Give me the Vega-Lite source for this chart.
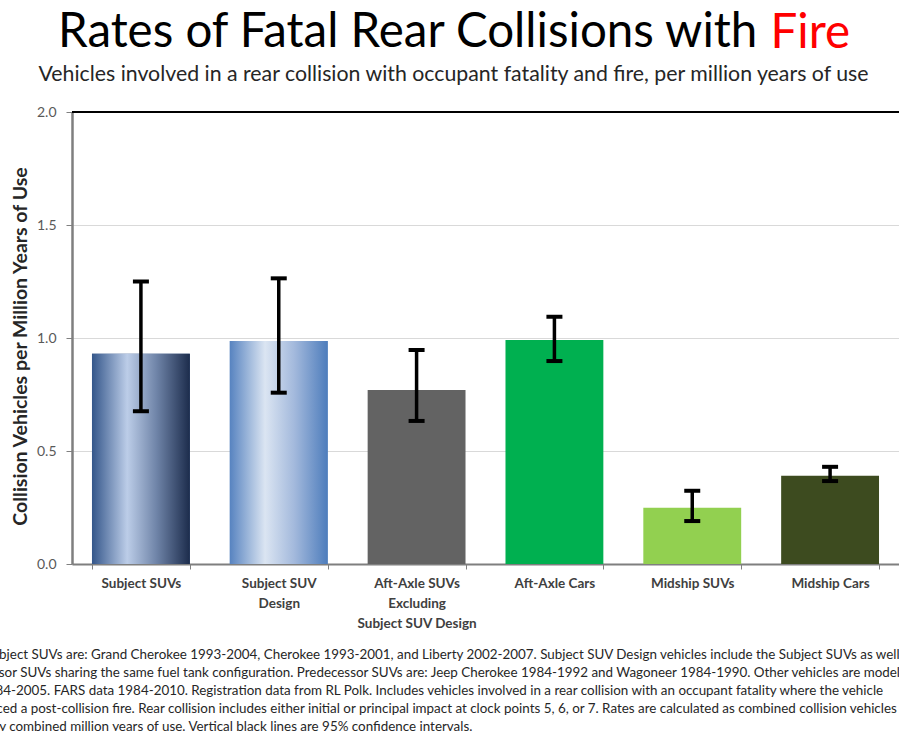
{
  "$schema": "https://vega.github.io/schema/vega-lite/v6.json",
  "width": 827,
  "height": 452,
  "autosize": {"type": "none"},
  "padding": {"left": 72, "top": 112, "right": 0, "bottom": 167},
  "background": "white",
  "title": {
    "text": "Rates of Fatal Rear Collisions with",
    "font": "Lato",
    "fontSize": 47.5,
    "fontWeight": "normal",
    "color": "black",
    "anchor": "start",
    "frame": "group",
    "dx": -14,
    "offset": -47.5
  },
  "data": {
    "values": [
      {"cat": "Subject SUVs", "rate": 0.93, "lo": 0.676, "hi": 1.25},
      {"cat": "Subject SUV Design", "rate": 0.987, "lo": 0.758, "hi": 1.264},
      {"cat": "Aft-Axle SUVs Excluding Subject SUV Design", "rate": 0.77, "lo": 0.633, "hi": 0.947},
      {"cat": "Aft-Axle Cars", "rate": 0.991, "lo": 0.898, "hi": 1.094},
      {"cat": "Midship SUVs", "rate": 0.249, "lo": 0.19, "hi": 0.324},
      {"cat": "Midship Cars", "rate": 0.391, "lo": 0.367, "hi": 0.43}
    ]
  },
  "resolve": {"axis": {"x": "independent"}},
  "layer": [
    {
      "mark": {"type": "bar"},
      "encoding": {
        "x": {
          "field": "cat",
          "type": "nominal",
          "sort": null,
          "scale": {"paddingInner": 0.29, "paddingOuter": 0.145},
          "axis": {
            "orient": "bottom",
            "title": [
              "Predecessor SUVs sharing the same fuel tank configuration.  Predecessor SUVs are: Jeep Cherokee 1984-1992 and Wagoneer 1984-1990.  Other vehicles are model",
              "years 1984-2005.  FARS data 1984-2010. Registration data from RL Polk.  Includes vehicles involved in a rear collision with an occupant fatality where the vehicle",
              "experienced a post-collision fire.  Rear collision includes either initial or principal impact at clock points 5, 6, or 7.  Rates are calculated as combined collision vehicles",
              "divided by combined million years of use.  Vertical black lines are 95% confidence intervals."
            ],
            "titleX": -127,
            "titleY": 112,
            "titleAlign": "left",
            "titleAnchor": "start",
            "titleBaseline": "alphabetic",
            "titleFont": "Lato",
            "titleFontSize": 13.4,
            "titleFontWeight": "normal",
            "titleColor": "#262626",
            "titleLineHeight": 18,
            "titleLimit": 0,
            "labelAngle": 0,
            "labelExpr": "datum.value == 'Subject SUV Design' ? ['Subject SUV', 'Design'] : datum.value == 'Aft-Axle SUVs Excluding Subject SUV Design' ? ['Aft-Axle SUVs', 'Excluding', 'Subject SUV Design'] : datum.value",
            "labelFont": "Lato",
            "labelFontSize": 13.5,
            "labelFontWeight": "bold",
            "labelColor": "#404040",
            "labelLineHeight": 20,
            "labelPadding": 7,
            "labelLimit": 0,
            "tickBand": "extent",
            "ticks": true,
            "tickSize": 5,
            "tickColor": "#808080",
            "domainColor": "#7f7f7f",
            "domainWidth": 2
          }
        },
        "y": {
          "field": "rate",
          "type": "quantitative",
          "scale": {"domain": [0, 2], "nice": false},
          "axis": {
            "title": "Collision Vehicles per Million Years of Use",
            "titleFont": "Lato",
            "titleFontSize": 19.5,
            "titleFontWeight": "bold",
            "titleColor": "#262626",
            "titlePadding": 6,
            "titleY": 234,
            "values": [0, 0.5, 1, 1.5, 2],
            "format": ".1f",
            "labelFont": "Lato",
            "labelFontSize": 14,
            "labelColor": "#595959",
            "labelPadding": 10,
            "tickSize": 6,
            "tickColor": "#808080",
            "domainColor": "#7f7f7f",
            "domainWidth": 2.5,
            "grid": true,
            "gridColor": "#d9d9d9"
          }
        },
        "color": {
          "field": "cat",
          "type": "nominal",
          "sort": null,
          "scale": {
            "domain": ["Subject SUVs", "Subject SUV Design", "Aft-Axle SUVs Excluding Subject SUV Design", "Aft-Axle Cars", "Midship SUVs", "Midship Cars"],
            "range": ["#2c4d80", "#5a86c2", "#636363", "#00b050", "#92d050", "#3d4b1f"]
          },
          "legend": null
        }
      }
    },
    {
      "transform": [{"filter": "datum.cat == 'Subject SUVs'"}],
      "mark": {
        "type": "bar",
        "fill": {
          "gradient": "linear", "x1": 0, "x2": 1, "y1": 0, "y2": 0,
          "stops": [
            {"offset": 0, "color": "#34568a"},
            {"offset": 0.36, "color": "#bccde8"},
            {"offset": 0.66, "color": "#6f84a8"},
            {"offset": 1, "color": "#1c2c4c"}
          ]
        }
      },
      "encoding": {
        "x": {
          "field": "cat", "type": "nominal", "sort": null,
          "axis": {
            "orient": "top", "labels": false, "ticks": false, "domain": false, "grid": false,
            "title": "Fire",
            "titleColor": "#ff0000",
            "titleFont": "Lato",
            "titleFontSize": 47.5,
            "titleFontWeight": "normal",
            "titleX": 698,
            "titleY": -65,
            "titleAlign": "left",
            "titleAnchor": "start",
            "titleBaseline": "alphabetic",
            "titleLimit": 0
          }
        },
        "y": {"field": "rate", "type": "quantitative"}
      }
    },
    {
      "transform": [{"filter": "datum.cat == 'Subject SUV Design'"}],
      "mark": {
        "type": "bar",
        "fill": {
          "gradient": "linear", "x1": 0, "x2": 1, "y1": 0, "y2": 0,
          "stops": [
            {"offset": 0, "color": "#5783c0"},
            {"offset": 0.36, "color": "#dbe5f2"},
            {"offset": 0.66, "color": "#a3b9dc"},
            {"offset": 1, "color": "#4e7dbc"}
          ]
        }
      },
      "encoding": {
        "x": {
          "field": "cat", "type": "nominal", "sort": null,
          "axis": {
            "orient": "top", "labels": false, "ticks": false, "domain": false, "grid": false,
            "title": "Vehicles involved in a rear collision with occupant fatality and fire, per million years of use",
            "titleColor": "#262626",
            "titleFont": "Lato",
            "titleFontSize": 21.3,
            "titleFontWeight": "normal",
            "titleX": 381,
            "titleY": -32,
            "titleAlign": "center",
            "titleAnchor": "middle",
            "titleBaseline": "alphabetic",
            "titleLimit": 0
          }
        },
        "y": {"field": "rate", "type": "quantitative"}
      }
    },
    {
      "mark": {"type": "rule", "color": "black", "strokeWidth": 3.5},
      "encoding": {
        "x": {
          "field": "cat", "type": "nominal", "sort": null,
          "axis": {
            "orient": "bottom", "labels": false, "ticks": false, "domain": false, "grid": false,
            "title": "Subject SUVs are: Grand Cherokee 1993-2004, Cherokee 1993-2001, and Liberty 2002-2007.  Subject SUV Design vehicles include the Subject SUVs as well as",
            "titleX": -88,
            "titleY": 94,
            "titleAlign": "left",
            "titleAnchor": "start",
            "titleBaseline": "alphabetic",
            "titleFont": "Lato",
            "titleFontSize": 13.4,
            "titleFontWeight": "normal",
            "titleColor": "#262626",
            "titleLimit": 0
          }
        },
        "y": {"field": "lo", "type": "quantitative"},
        "y2": {"field": "hi"}
      }
    },
    {
      "mark": {"type": "tick", "color": "black", "size": 16, "thickness": 4, "opacity": 1},
      "encoding": {
        "x": {"field": "cat", "type": "nominal", "sort": null, "axis": null},
        "y": {"field": "lo", "type": "quantitative"}
      }
    },
    {
      "mark": {"type": "tick", "color": "black", "size": 16, "thickness": 4, "opacity": 1},
      "encoding": {
        "x": {"field": "cat", "type": "nominal", "sort": null, "axis": null},
        "y": {"field": "hi", "type": "quantitative"}
      }
    },
    {
      "mark": {"type": "rule", "color": "black", "strokeWidth": 2},
      "encoding": {"y": {"datum": 2}}
    }
  ]
}
